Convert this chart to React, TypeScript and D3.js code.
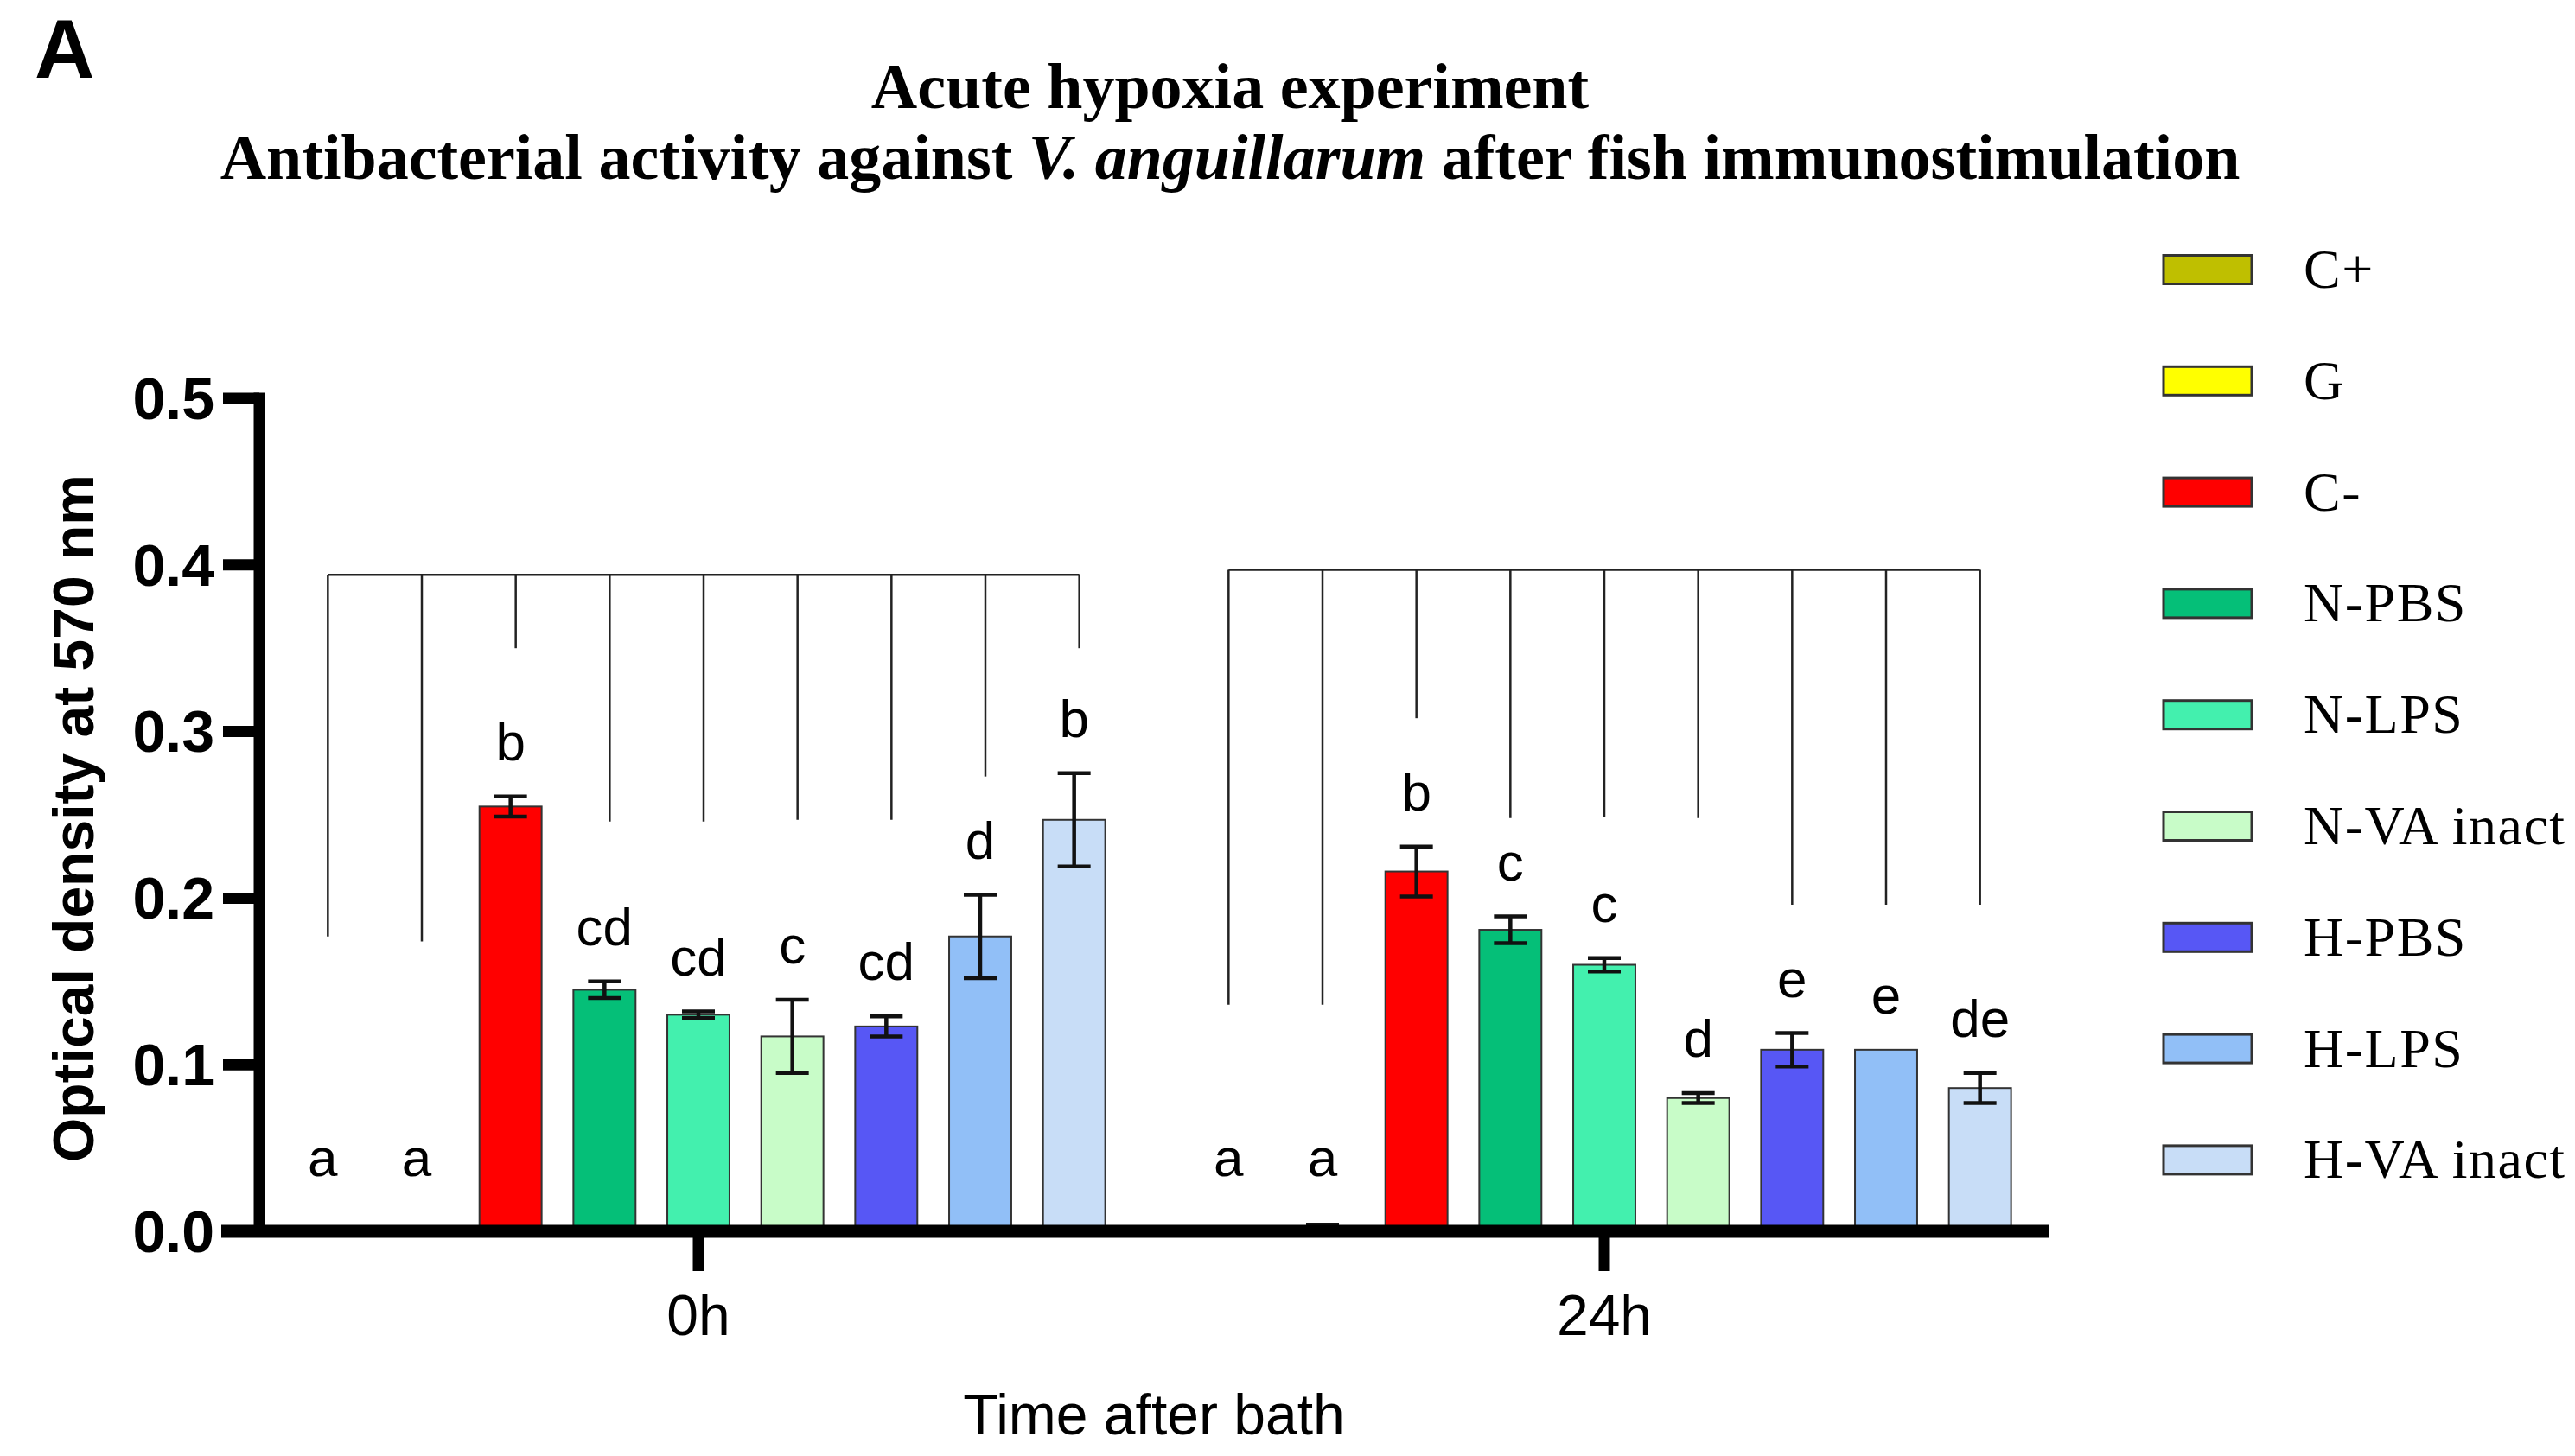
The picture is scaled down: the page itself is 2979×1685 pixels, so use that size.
import * as d3 from 'd3';

const groups = ['0h', '24h'];
const seriesNames = ['C+', 'G', 'C-', 'N-PBS', 'N-LPS', 'N-VA inact', 'H-PBS', 'H-LPS', 'H-VA inact'];
const seriesColors = ['#bfbf00', '#ffff00', '#ff0000', '#05bf78', '#43f0ae', '#c8fcc8', '#5757f5', '#91bff7', '#c8ddf7'];

// mean OD and SEM per time point
const means0h = [0, 0.001, 0.255, 0.145, 0.130, 0.117, 0.123, 0.177, 0.247];
const errors0h = [0, 0, 0.006, 0.005, 0.002, 0.022, 0.006, 0.025, 0.028];
const letters0h = ['a', 'a', 'b', 'cd', 'cd', 'c', 'cd', 'd', 'b'];

const means24h = [0, 0.003, 0.216, 0.181, 0.160, 0.080, 0.109, 0.109, 0.086];
const errors24h = [0, 0.001, 0.015, 0.008, 0.004, 0.003, 0.010, 0, 0.009];
const letters24h = ['a', 'a', 'b', 'c', 'c', 'd', 'e', 'e', 'de'];

// comparison bracket (top level and drop end, in OD units)
const bracketTop = [0.394, 0.397];
const bracketEnds0h = [0.177, 0.174, 0.350, 0.246, 0.246, 0.247, 0.247, 0.273, 0.350];
const bracketEnds24h = [0.136, 0.136, 0.308, 0.248, 0.249, 0.248, 0.196, 0.196, 0.196];

const yTicks = [0, 0.1, 0.2, 0.3, 0.4, 0.5];

const SANS = '"Liberation Sans", Arial, sans-serif';
const SERIF = '"Liberation Serif", "Times New Roman", serif';

const width = 2979;
const height = 1685;

export default function App() {
  const means = [means0h, means24h];
  const errors = [errors0h, errors24h];
  const letters = [letters0h, letters24h];
  const bracketEnds = [bracketEnds0h, bracketEnds24h];

  const y = d3.scaleLinear().domain([0, 0.5]).range([1425, 461]);
  const x0 = d3
    .scaleBand<string>()
    .domain(groups)
    .range([284, 2380])
    .paddingInner(0.0668)
    .paddingOuter(0.0334);
  const x1 = d3
    .scaleBand<string>()
    .domain(seriesNames)
    .range([0, x0.bandwidth()])
    .paddingInner(0.338)
    .paddingOuter(0.169);
  const fmt = d3.format('.1f');

  const axisX = 300;
  const bw = x1.bandwidth();
  const cap = 19;

  return (
    <svg
      width={width}
      height={height}
      style={{ position: 'absolute', left: 0, top: 0, background: '#fff' }}
    >
      <text x={40} y={90} fontFamily={SANS} fontWeight="bold" fontSize={96}>
        A
      </text>

      <text x={1423} y={125} textAnchor="middle" fontFamily={SERIF} fontWeight="bold" fontSize={74}>
        Acute hypoxia experiment
      </text>
      <text x={1423} y={207} textAnchor="middle" fontFamily={SERIF} fontWeight="bold" fontSize={74}>
        <tspan>Antibacterial activity against </tspan>
        <tspan fontStyle="italic">V. anguillarum</tspan>
        <tspan> after fish immunostimulation</tspan>
      </text>

      {/* brackets */}
      {groups.map((g, gi) => {
        const xs = seriesNames.map((s) => (x0(g) ?? 0) + (x1(s) ?? 0) + bw / 2 + (gi === 0 ? 6 : 0));
        const yt = y(bracketTop[gi]);
        return (
          <g key={`br-${g}`} stroke="#222" strokeWidth={2.5}>
            <line x1={xs[0]} x2={xs[xs.length - 1]} y1={yt} y2={yt} />
            {bracketEnds[gi].map((v, i) => (
              <line key={i} x1={xs[i]} x2={xs[i]} y1={yt} y2={y(v)} />
            ))}
          </g>
        );
      })}

      {/* bars */}
      {groups.map((g, gi) => {
        const gx = x0(g) ?? 0;
        return (
          <g key={`bars-${g}`}>
            {seriesNames.map((s, i) => {
              const v = means[gi][i];
              const e = errors[gi][i];
              const bx = gx + (x1(s) ?? 0);
              const cx = bx + bw / 2;
              return (
                <g key={s}>
                  {v > 0 && (
                    <rect
                      x={bx}
                      y={y(v)}
                      width={bw}
                      height={y(0) - y(v)}
                      fill={seriesColors[i]}
                      stroke="#333"
                      strokeWidth={2}
                    />
                  )}
                  {e > 0 && (
                    <g stroke="#111" strokeWidth={4.5}>
                      <line x1={cx} x2={cx} y1={y(v + e)} y2={y(v - e)} />
                      <line x1={cx - cap} x2={cx + cap} y1={y(v + e)} y2={y(v + e)} />
                      <line x1={cx - cap} x2={cx + cap} y1={y(v - e)} y2={y(v - e)} />
                    </g>
                  )}
                  <text
                    x={cx}
                    y={Math.min(y(v + e) - 42, y(0) - 64)}
                    textAnchor="middle"
                    fontFamily={SANS}
                    fontSize={62}
                  >
                    {letters[gi][i]}
                  </text>
                </g>
              );
            })}
          </g>
        );
      })}

      {/* y axis */}
      <g>
        <line x1={axisX} x2={axisX} y1={y(0.5) - 6.5} y2={y(0)} stroke="#000" strokeWidth={13} />
        {yTicks.map((t) => (
          <g key={t} transform={`translate(0,${y(t)})`}>
            <line x1={axisX - 42} x2={axisX} stroke="#000" strokeWidth={13} />
            <text
              x={axisX - 52}
              dy="0.35em"
              textAnchor="end"
              fontFamily={SANS}
              fontWeight="bold"
              fontSize={68}
            >
              {fmt(t)}
            </text>
          </g>
        ))}
      </g>

      {/* x axis */}
      <line x1={256} x2={2371} y1={y(0)} y2={y(0)} stroke="#000" strokeWidth={15} />
      {groups.map((g) => {
        const cx = (x0(g) ?? 0) + x0.bandwidth() / 2;
        return (
          <g key={`xt-${g}`}>
            <line x1={cx} x2={cx} y1={y(0)} y2={y(0) + 46} stroke="#000" strokeWidth={13} />
            <text x={cx} y={1545} textAnchor="middle" fontFamily={SANS} fontSize={66}>
              {g}
            </text>
          </g>
        );
      })}

      <text x={1335} y={1660} textAnchor="middle" fontFamily={SANS} fontSize={66}>
        Time after bath
      </text>

      <text
        transform={`translate(108,${(y(0) + y(0.5)) / 2 + 4}) rotate(-90)`}
        textAnchor="middle"
        fontFamily={SANS}
        fontWeight="bold"
        fontSize={66}
      >
        Optical density at 570 nm
      </text>

      {/* legend */}
      {seriesNames.map((s, i) => {
        const cy = 312 + i * 128.8;
        return (
          <g key={`lg-${s}`}>
            <rect
              x={2503}
              y={cy - 16.5}
              width={102}
              height={33}
              fill={seriesColors[i]}
              stroke="#333"
              strokeWidth={3}
            />
            <text x={2665} y={cy + 21} fontFamily={SERIF} fontSize={64} letterSpacing={1.5}>
              {s}
            </text>
          </g>
        );
      })}
    </svg>
  );
}
